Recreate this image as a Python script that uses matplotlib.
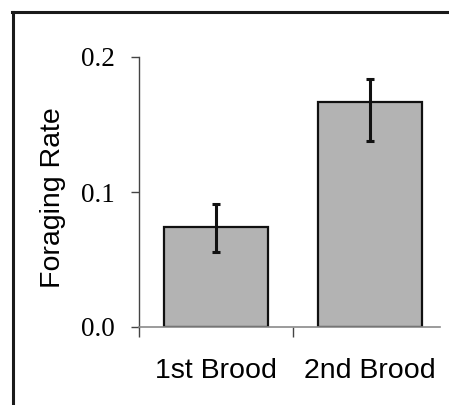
import matplotlib
matplotlib.use("Agg")
import matplotlib.pyplot as plt
from matplotlib.lines import Line2D

categories = ["1st Brood", "2nd Brood"]
values = [0.074, 0.167]
err_low = [0.0184, 0.029]
err_high = [0.0171, 0.017]
yticks = [0.0, 0.1, 0.2]
ytick_labels = ["0.0", "0.1", "0.2"]

W, H = 449, 405
fig = plt.figure(figsize=(W / 100, H / 100), dpi=100)
fig.patch.set_facecolor("white")

# axes: x from 139 to 440 px, y from 57 (0.2) to 327 (0.0)
ax = fig.add_axes([139 / W, 1 - 327 / H, (440 - 139) / W, (327 - 57) / H])
ax.set_facecolor("white")

x = list(range(len(categories)))
ax.bar(x, values, width=0.67, color="#b3b3b3", edgecolor="#111111", linewidth=1.6, zorder=2)
ax.errorbar(x, values, yerr=[err_low, err_high], fmt="none", ecolor="#111111",
            elinewidth=2.2, capsize=3, capthick=2.2, zorder=3)

ax.set_xlim(-0.5, 1.455)
ax.set_ylim(0, 0.2)

for s in ["top", "right"]:
    ax.spines[s].set_visible(False)
ax.spines["left"].set_color("#444444")
ax.spines["left"].set_linewidth(1.0)
ax.spines["bottom"].set_color("#8a8a8a")
ax.spines["bottom"].set_linewidth(1.2)

ax.set_yticks(yticks)
ax.set_yticklabels(ytick_labels, family="Liberation Serif", fontsize=19.5)
ax.tick_params(axis="y", direction="out", length=5.5, width=1.0, color="#444444", pad=12)

ax.set_xticks(x)
ax.set_xticklabels(categories, family="Liberation Sans", fontsize=20.5)
ax.tick_params(axis="x", which="major", length=0, pad=22)
ax.set_xticks([-0.5, 0.5], minor=True)
ax.tick_params(axis="x", which="minor", direction="out", length=7.5, width=1.0, color="#444444")

ax.set_ylabel("Foraging Rate", family="Liberation Sans", fontsize=20.5)
ax.yaxis.set_label_coords((66.5 - 139) / 301, (327 - 197.5) / 270)

# frame border (left and top)
fig.add_artist(Line2D([13 / W, 13 / W], [0, 1 - 12 / H], transform=fig.transFigure,
                      color="#1a1a1a", linewidth=2.2))
fig.add_artist(Line2D([12 / W, 1.0], [1 - 12 / H, 1 - 12 / H], transform=fig.transFigure,
                      color="#1a1a1a", linewidth=2.2))

fig.savefig("out.png", dpi=100)
